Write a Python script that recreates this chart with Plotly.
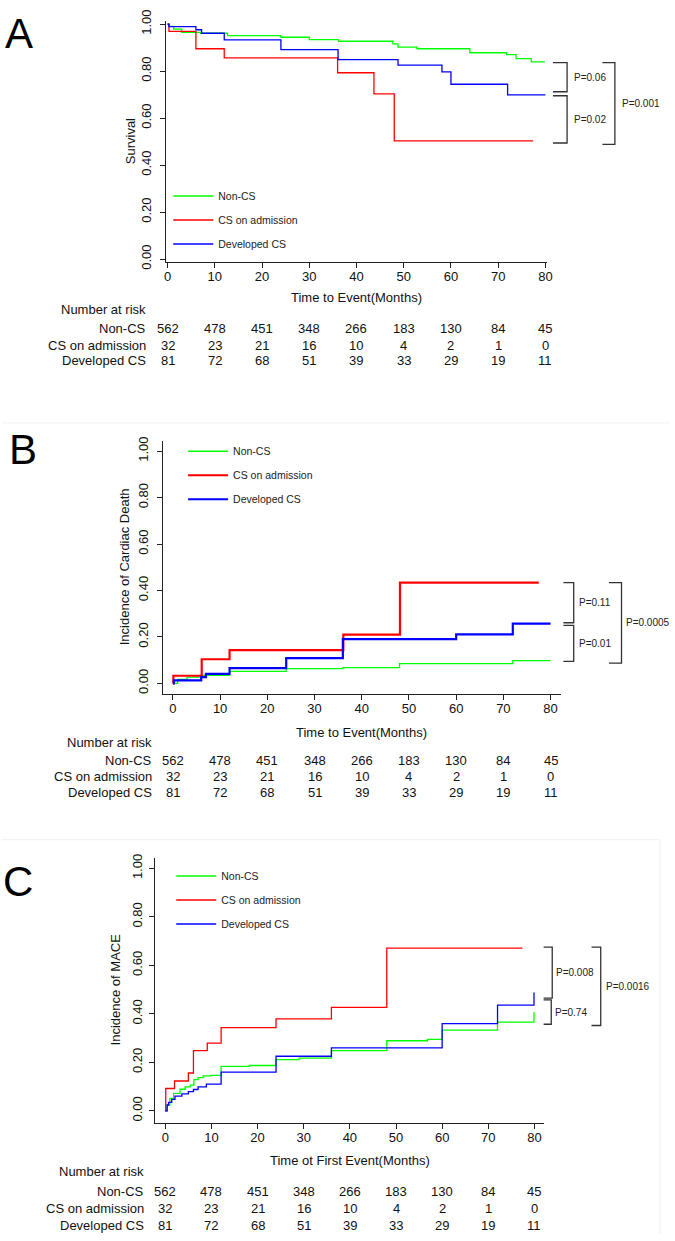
import plotly.graph_objects as go

W, H = 675, 1241
FONT = 'Liberation Sans, Arial, Helvetica, sans-serif'

# ---- data -------------------------------------------------------------
groups = ['Non-CS', 'CS on admission', 'Developed CS']
colors = ['#00ff00', '#ff0000', '#0000ff']
months = [0, 10, 20, 30, 40, 50, 60, 70, 80]

risk_noncs = [562, 478, 451, 348, 266, 183, 130, 84, 45]
risk_csadm = [32, 23, 21, 16, 10, 4, 2, 1, 0]
risk_devcs = [81, 72, 68, 51, 39, 33, 29, 19, 11]

# A: survival
a_noncs_t = [0, 0.3, 1.3, 3, 7, 12.7, 24, 30, 36.2, 47.7, 48.8, 52.8, 64, 71.8, 73.8, 77, 79.9]
a_noncs_y = [1.0, 0.99, 0.979, 0.965, 0.961, 0.951, 0.944, 0.934, 0.927, 0.916, 0.902, 0.895,
             0.878, 0.870, 0.853, 0.839, 0.839]
a_csadm_t = [0, 0.3, 6, 12, 36, 43.7, 48, 77.4]
a_csadm_y = [1.0, 0.969, 0.895, 0.856, 0.793, 0.703, 0.503, 0.503]
a_devcs_t = [0, 0.3, 6, 7.2, 12, 24, 36.1, 48.8, 58.1, 60, 72, 80]
a_devcs_y = [1.0, 0.989, 0.976, 0.961, 0.933, 0.891, 0.849, 0.825, 0.797, 0.744, 0.699, 0.699]
a_p_text = ['P=0.06', 'P=0.02', 'P=0.001']
a_p_top = [0.836, 0.695, 0.836]
a_p_bottom = [0.712, 0.494, 0.488]

# B: incidence of cardiac death
b_noncs_t = [0, 1, 3, 6, 12, 24, 36, 48, 72, 80]
b_noncs_y = [0, 0.017, 0.027, 0.035, 0.052, 0.064, 0.068, 0.085, 0.098, 0.098]
b_csadm_t = [0, 0.1, 6.1, 12, 36.1, 48.1, 77.5]
b_csadm_y = [0, 0.033, 0.104, 0.143, 0.210, 0.434, 0.434]
b_devcs_t = [0, 0.2, 6, 7, 12, 24, 36, 60, 72, 80]
b_devcs_y = [0, 0.013, 0.027, 0.041, 0.066, 0.109, 0.191, 0.211, 0.257, 0.257]
b_p_text = ['P=0.11', 'P=0.01', 'P=0.0005']
b_p_top = [0.434, 0.250, 0.434]
b_p_bottom = [0.261, 0.095, 0.087]

# C: incidence of MACE
c_noncs_t = [0, 0.4, 1, 1.8, 3.2, 4.3, 5.4, 6.2, 7.1, 8.2, 9.8, 12.1, 18.2, 24, 29, 36, 48,
             56.8, 60, 72, 79.9]
c_noncs_y = [0, 0.024, 0.051, 0.072, 0.089, 0.099, 0.106, 0.129, 0.137, 0.144, 0.146, 0.183,
             0.187, 0.211, 0.217, 0.248, 0.289, 0.295, 0.333, 0.366, 0.407]
c_csadm_t = [0, 0.1, 2, 5, 6.1, 9.1, 12.1, 24, 36, 48, 77.4]
c_csadm_y = [0, 0.092, 0.123, 0.156, 0.248, 0.279, 0.343, 0.379, 0.427, 0.671, 0.671]
c_devcs_t = [0, 0.4, 0.7, 1.4, 2.1, 3.6, 5, 6.1, 7.1, 8.9, 12.1, 24, 36, 60, 72, 79.9]
c_devcs_y = [0, 0.024, 0.035, 0.047, 0.061, 0.070, 0.079, 0.088, 0.099, 0.110, 0.160, 0.225,
             0.260, 0.360, 0.436, 0.488]
c_p_text = ['P=0.008', 'P=0.74', 'P=0.0016']
c_p_top = [0.675, 0.458, 0.675]
c_p_bottom = [0.465, 0.357, 0.352]

# ---- layout of the three panels (pixel positions) ---------------------
panels = [
    dict(letter='A', letter_xy=(17, 23), ytitle='Survival', xtitle='Time to Event(Months)',
         xpx=(165.7, 551), ypx=(10, 255), xr=(-0.335, 80.4), yr=(-0.0138, 1.0138),
         ytitle_x=130, xtitle_y=291, risk_y=(303, 322, 339, 355), risk_right=148,
         legend_xy=(168, 173), widths=(1.3, 1.3, 1.3), standoff=4,
         curves=[(a_noncs_t, a_noncs_y), (a_csadm_t, a_csadm_y), (a_devcs_t, a_devcs_y)],
         ptext=a_p_text, ptop=a_p_top, pbot=a_p_bottom,
         bx=[(556.7, 571, 576.7), (556.7, 571, 576.7), (606.7, 619.3, 625)]),
    dict(letter='B', letter_xy=(21, 445), ytitle='Incidence of Cardiac Death',
         xtitle='Time to Event(Months)',
         xpx=(162.7, 565), ypx=(436.7, 693.3), xr=(-2.096, 82.24), yr=(-0.0467, 1.042),
         ytitle_x=123.3, xtitle_y=732, risk_y=(742, 761, 777, 793), risk_right=154,
         legend_xy=(183, 432), widths=(1.3, 2.2, 2.2), standoff=4,
         curves=[(b_noncs_t, b_noncs_y), (b_csadm_t, b_csadm_y), (b_devcs_t, b_devcs_y)],
         ptext=b_p_text, ptop=b_p_top, pbot=b_p_bottom,
         bx=[(567.3, 577.7, 582.3), (567.3, 577.7, 582.3), (613.3, 626, 629.3)]),
    dict(letter='C', letter_xy=(16, 883), ytitle='Incidence of MACE',
         xtitle='Time ot First Event(Months)',
         xpx=(154.3, 548), ypx=(859.3, 1128.3), xr=(-2.295, 82.14), yr=(-0.05, 1.0435),
         ytitle_x=115, xtitle_y=1166, risk_y=(1178, 1198, 1215, 1232), risk_right=146,
         legend_xy=(171, 863), widths=(1.3, 1.3, 1.3), standoff=2,
         curves=[(c_noncs_t, c_noncs_y), (c_csadm_t, c_csadm_y), (c_devcs_t, c_devcs_y)],
         ptext=c_p_text, ptop=c_p_top, pbot=c_p_bottom,
         bx=[(547.3, 556, 558.3), (547.3, 555, 558), (595.7, 605, 609.3)]),
]


def px_x(x):
    return x / W


def px_y(y):
    return 1 - y / H


def val_to_paper(p, v):
    d0, d1 = px_y(p['ypx'][1]), px_y(p['ypx'][0])
    r0, r1 = p['yr']
    return d0 + (v - r0) / (r1 - r0) * (d1 - d0)


fig = go.Figure()
annotations = []
shapes = []
layout = {}

for i, p in enumerate(panels):
    n = '' if i == 0 else str(i + 1)
    xref, yref = 'x' + n, 'y' + n
    leg = 'legend' + n

    # Kaplan-Meier style step curves
    for k, (t, v) in enumerate(p['curves']):
        fig.add_trace(go.Scatter(
            x=t, y=v, mode='lines', name=groups[k], line_shape='hv',
            line=dict(color=colors[k], width=p['widths'][k]),
            xaxis=xref, yaxis=yref, legend=leg, legendgroup=f'{i}{k}',
            hoverinfo='skip'))

    axis_common = dict(showline=True, linecolor='#222', linewidth=1, ticks='outside',
                       ticklen=5, tickwidth=1, tickcolor='#222', showgrid=False,
                       zeroline=False, tickfont=dict(family=FONT, size=13, color='#111'))
    layout['xaxis' + n] = dict(domain=[px_x(p['xpx'][0]), px_x(p['xpx'][1])],
                               range=list(p['xr']), tickvals=months, anchor=yref,
                               ticklabelstandoff=-3, **axis_common)
    layout['yaxis' + n] = dict(domain=[px_y(p['ypx'][1]), px_y(p['ypx'][0])],
                               range=list(p['yr']), tickvals=[0, 0.2, 0.4, 0.6, 0.8, 1.0],
                               tickformat='.2f', tickangle=-90, anchor=xref,
                               ticklabelstandoff=p['standoff'], **axis_common)
    layout[leg] = dict(x=px_x(p['legend_xy'][0]), y=px_y(p['legend_xy'][1]),
                       xanchor='left', yanchor='top', bgcolor='rgba(0,0,0,0)',
                       borderwidth=0, itemwidth=40, traceorder='grouped',
                       tracegroupgap=5, font=dict(family=FONT, size=10.5, color='#222'))

    # panel letter
    annotations.append(dict(text=p['letter'], x=px_x(p['letter_xy'][0]),
                            y=px_y(p['letter_xy'][1]), xref='paper', yref='paper',
                            showarrow=False, xanchor='center', yanchor='middle',
                            font=dict(family=FONT, size=42, color='black')))
    # axis titles
    annotations.append(dict(text=p['xtitle'], x=40, y=px_y(p['xtitle_y']), xref=xref,
                            yref='paper', showarrow=False, yanchor='middle',
                            font=dict(family=FONT, size=13, color='#111')))
    annotations.append(dict(text=p['ytitle'], x=px_x(p['ytitle_x']), y=0.5, xref='paper',
                            yref=yref, showarrow=False, textangle=-90, xanchor='center',
                            font=dict(family=FONT, size=13, color='#111')))

    # number at risk table
    ry = p['risk_y']
    annotations.append(dict(text='Number at risk', x=px_x(p['risk_right']), y=px_y(ry[0]),
                            xref='paper', yref='paper', showarrow=False, xanchor='right',
                            yanchor='middle', font=dict(family=FONT, size=13, color='#111')))
    for row, (name, counts) in enumerate(zip(groups, [risk_noncs, risk_csadm, risk_devcs])):
        yy = px_y(ry[row + 1])
        annotations.append(dict(text=name, x=px_x(p['risk_right']), y=yy, xref='paper',
                                yref='paper', showarrow=False, xanchor='right',
                                yanchor='middle',
                                font=dict(family=FONT, size=13, color='#111')))
        for m, c in zip(months, counts):
            annotations.append(dict(text=str(c), x=m, y=yy, xref=xref, yref='paper',
                                    showarrow=False, xanchor='center', yanchor='middle',
                                    font=dict(family=FONT, size=13, color='#111')))

    # p-value brackets
    for txt, top, bot, (x0, x1, xt) in zip(p['ptext'], p['ptop'], p['pbot'], p['bx']):
        yt, yb = val_to_paper(p, top), val_to_paper(p, bot)
        shapes.append(dict(type='path', xref='paper', yref='paper',
                           path=f'M{px_x(x0)},{yt} L{px_x(x1)},{yt} L{px_x(x1)},{yb} '
                                f'L{px_x(x0)},{yb}',
                           line=dict(color='#333', width=1.3)))
        annotations.append(dict(text=txt, x=px_x(xt), y=(yt + yb) / 2, xref='paper',
                                yref='paper', showarrow=False, xanchor='left',
                                yanchor='middle', borderpad=0,
                                font=dict(family=FONT, size=10, color='#222')))

# faint frame lines between panels
faint = dict(color='#f0f0f0', width=1)
shapes.append(dict(type='line', xref='paper', yref='paper', x0=0, x1=1,
                   y0=px_y(418), y1=px_y(418), line=faint))
shapes.append(dict(type='line', xref='paper', yref='paper', x0=0, x1=px_x(665),
                   y0=px_y(841), y1=px_y(841), line=faint))
shapes.append(dict(type='line', xref='paper', yref='paper', x0=px_x(665), x1=px_x(665),
                   y0=px_y(841), y1=0, line=faint))

fig.update_layout(width=W, height=H, autosize=False,
                  margin=dict(l=0, r=0, t=0, b=0),
                  paper_bgcolor='white', plot_bgcolor='white',
                  showlegend=True, annotations=annotations, shapes=shapes, **layout)

# drop the default 8px page margin so the figure sits at the window origin
fig.write_html("out.html", config={'displayModeBar': False},
               post_script="document.body.style.margin='0';"
                           "document.body.style.overflow='hidden';")
